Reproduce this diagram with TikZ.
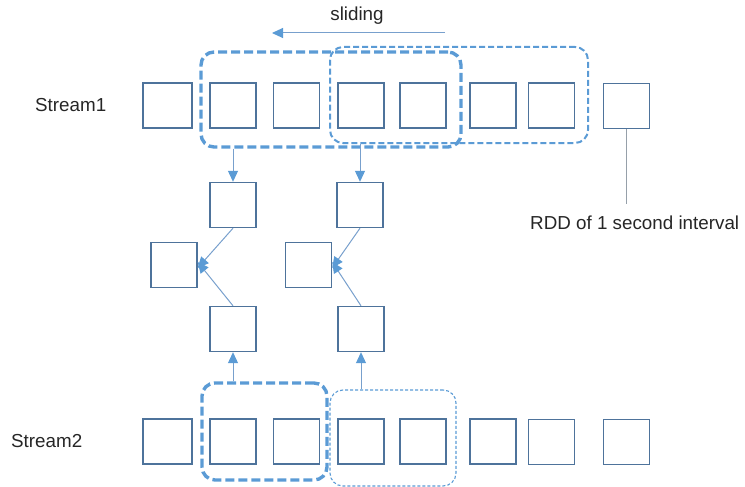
\documentclass[tikz,border=0pt]{standalone}
\usepackage{fontspec}
\setmainfont{Liberation Sans}
\usetikzlibrary{arrows.meta}
\definecolor{boxc}{RGB}{78,115,155}
\definecolor{dashc}{RGB}{91,155,213}
\definecolor{arrc}{RGB}{120,160,205}
\definecolor{linec}{RGB}{150,160,170}
\tikzset{
  rdd/.style={draw=boxc, line width=1.4pt, minimum width=46pt, minimum height=45pt, inner sep=0pt},
  rddw/.style={rdd, minimum width=49pt},
  winthick/.style={draw=dashc, line width=3.4pt, dash pattern=on 9pt off 4pt, rounded corners=13pt, inner sep=0pt},
  winmid/.style={draw=dashc, line width=2pt, dash pattern=on 6pt off 3pt, rounded corners=13pt, inner sep=0pt},
  winthin/.style={draw=dashc, line width=1.1pt, dash pattern=on 3pt off 2pt, rounded corners=13pt, inner sep=0pt},
  arr/.style={draw=arrc, line width=1pt, -{Triangle[length=11pt,width=10pt,color=dashc]}},
  lbl/.style={font=\fontsize{18.8}{22}\selectfont, inner sep=0pt, text=black!85}
}
\begin{document}
\begin{tikzpicture}[x=1pt,y=-1pt]
\useasboundingbox (0,0) rectangle (745,487);
% windows stream1
\node[winmid, minimum width=258pt, minimum height=96pt] (w1b) at (459,95) {};
\node[winthick, minimum width=260pt, minimum height=95pt] (w1a) at (331,99.5) {};
% stream1 boxes
\node[rddw] (a1) at (167.5,105.5) {};
\node[rdd] (a2) at (233,105.5) {};
\node[rdd] (a3) at (296.5,105.5) {};
\node[rdd] (a4) at (361,105.5) {};
\node[rdd] (a5) at (423,105.5) {};
\node[rdd] (a6) at (493,105.5) {};
\node[rdd] (a7) at (551.5,105.5) {};
\node[rdd] (a8) at (626.5,106) {};
% sliding
\coordinate (s0) at (445,33);
\coordinate (s1) at (272,33);
\draw[arr] (s0) -- (s1);
\node[lbl] (slide) at (357,16) {sliding};
% labels
\node[lbl, anchor=west] (st1) at (35,105) {Stream1};
\node[lbl, anchor=west] (st2) at (11,441) {Stream2};
\node[lbl, anchor=west] (rddl) at (530,222.5) {RDD of 1 second interval};
\draw[linec, line width=1pt] (a8.south) -- (a8.south |- 0,204) coordinate (rddtop);
% middle boxes
\node[rdd] (u1) at (233,205) {};
\node[rdd] (u2) at (360,205) {};
\node[rdd] (m1) at (174,265) {};
\node[rdd] (m2) at (308.5,265) {};
\node[rdd] (l1) at (233,329) {};
\node[rdd] (l2) at (361,329) {};
% stream2 windows
\node[winthick, minimum width=125pt, minimum height=97pt] (w2a) at (264.5,431.5) {};
\node[winthin, minimum width=126pt, minimum height=96pt] (w2b) at (393,438) {};
% stream2 boxes
\node[rddw] (b1) at (167.5,441.5) {};
\node[rdd] (b2) at (233,441.5) {};
\node[rdd] (b3) at (296.5,441.5) {};
\node[rdd] (b4) at (361,441.5) {};
\node[rdd] (b5) at (423,441.5) {};
\node[rdd] (b6) at (493,441.5) {};
\node[rdd] (b7) at (551.5,442) {};
\node[rdd] (b8) at (626.5,442) {};
% arrows
\draw[arr] (w1a.south -| u1) -- (u1.north);
\draw[arr] (w1b.south -| u2) -- (u2.north);
\draw[arr] (u1.south) -- ([yshift=-3pt]m1.east);
\draw[arr] (l1.north) -- ([yshift=3pt]m1.east);
\draw[arr] (u2.south) -- ([yshift=-3pt]m2.east);
\draw[arr] (l2.north) -- ([yshift=3pt]m2.east);
\draw[arr] (w2a.north -| l1) -- (l1.south);
\draw[arr] (w2b.north -| l2) -- (l2.south);
\end{tikzpicture}
\end{document}
